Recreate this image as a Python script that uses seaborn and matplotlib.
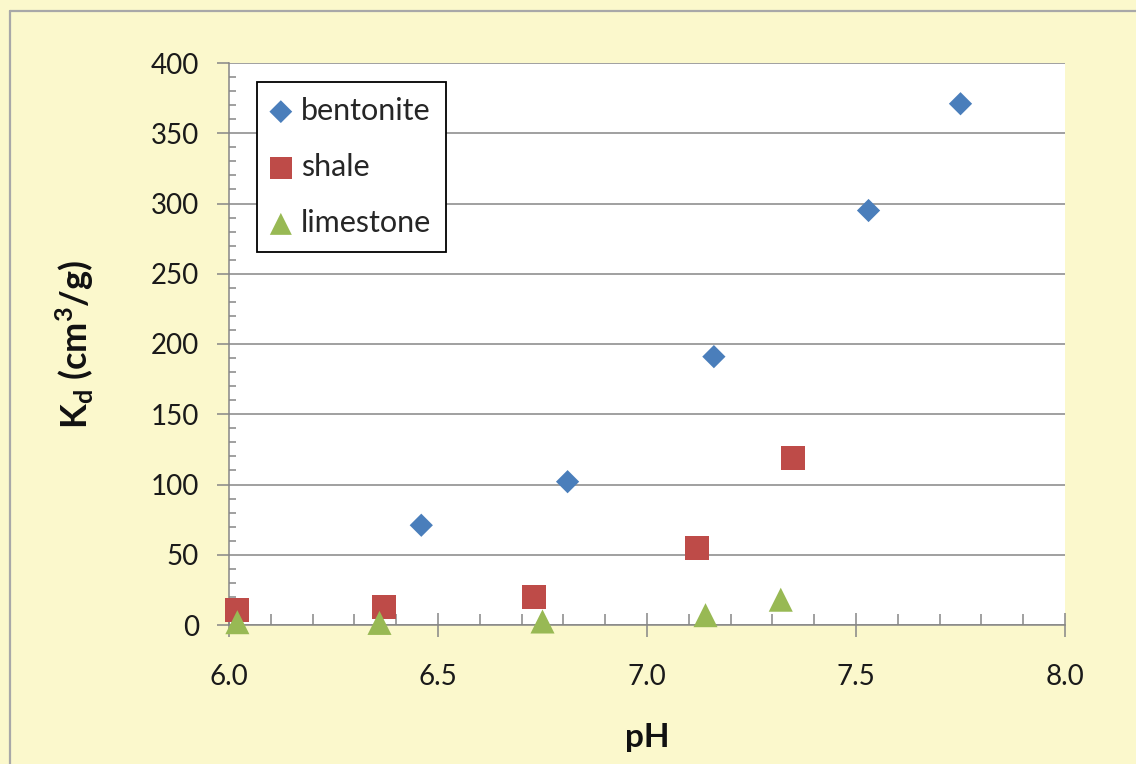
import numpy as np
import pandas as pd
import matplotlib
matplotlib.use("Agg")
import matplotlib.pyplot as plt
import seaborn as sns
from matplotlib.ticker import MultipleLocator, FormatStrFormatter
from matplotlib.lines import Line2D

# ---- data ----
series_names = ["bentonite", "shale", "limestone"]
bentonite_ph = [6.46, 6.81, 7.16, 7.53, 7.75]
bentonite_kd = [71, 102, 191, 295, 371]
shale_ph = [6.02, 6.37, 6.73, 7.12, 7.35]
shale_kd = [11, 13, 20, 55, 119]
limestone_ph = [6.02, 6.36, 6.75, 7.14, 7.32]
limestone_kd = [2, 1.5, 2.5, 7, 18]

x_ticks = [6.0, 6.5, 7.0, 7.5, 8.0]
y_ticks = [0, 50, 100, 150, 200, 250, 300, 350, 400]

df = pd.DataFrame({
    "pH": bentonite_ph + shale_ph + limestone_ph,
    "Kd": bentonite_kd + shale_kd + limestone_kd,
    "material": ["bentonite"] * 5 + ["shale"] * 5 + ["limestone"] * 5,
})

colors = {"bentonite": "#4A7EBB", "shale": "#BE4B48", "limestone": "#98B954"}
markers = {"bentonite": "D", "shale": "s", "limestone": "^"}
sizes = {"bentonite": 140, "shale": 300, "limestone": 300}
legend_sizes = {"bentonite": 135, "shale": 250, "limestone": 250}

bg = "#FBF8CC"

sns.set_theme(style="white")
plt.rcParams["font.family"] = ["Lato", "DejaVu Sans"]

fig = plt.figure(figsize=(11.36, 7.64), dpi=100, facecolor=bg)
ax = fig.add_axes([229 / 1136, 1 - 625 / 764, (1065 - 229) / 1136, (625 - 63) / 764])
ax.set_facecolor("white")

for name in series_names:
    sub = df[df["material"] == name]
    sns.scatterplot(data=sub, x="pH", y="Kd", marker=markers[name], s=sizes[name],
                    color=colors[name], edgecolor="none", linewidth=0,
                    label=name, ax=ax, clip_on=False, zorder=5)

ax.set_xlim(6.0, 8.0)
ax.set_ylim(0, 400)
ax.set_xticks(x_ticks)
ax.set_yticks(y_ticks)
ax.xaxis.set_major_formatter(FormatStrFormatter("%.1f"))
ax.xaxis.set_minor_locator(MultipleLocator(0.1))
ax.yaxis.set_minor_locator(MultipleLocator(10))

gray = "#868686"
ax.grid(axis="y", which="major", color=gray, linewidth=1.1)
ax.grid(axis="x", visible=False)
ax.set_axisbelow(True)
for side in ["top", "right"]:
    ax.spines[side].set_visible(False)
for side in ["left", "bottom"]:
    ax.spines[side].set_color(gray)
    ax.spines[side].set_linewidth(1.1)

ax.tick_params(axis="x", which="major", direction="inout", length=17, width=1.1,
               color=gray, pad=19.5, labelsize=20, labelcolor="#1a1a1a", bottom=True)
ax.tick_params(axis="x", which="minor", direction="in", length=8, width=1.1,
               color=gray, bottom=True)
ax.tick_params(axis="y", which="major", direction="out", length=8.6, width=1.1,
               color=gray, pad=13, labelsize=20, labelcolor="#1a1a1a", left=True)
ax.tick_params(axis="y", which="minor", direction="in", length=5, width=1.1,
               color=gray, left=True)

ax.set_xlabel("pH", fontsize=24, fontweight="bold", labelpad=24, color="#111111")
ax.set_ylabel(r"K$_\mathregular{d}$ (cm$^\mathregular{3}$/g)", fontsize=26,
              fontweight="bold", labelpad=39, color="#111111")

leg = ax.legend(loc="upper left", bbox_to_anchor=((257 - 229) / 836, (625 - 82) / 562),
                borderaxespad=0, frameon=True, fancybox=False, edgecolor="black",
                fontsize=22, labelspacing=0.92, handlelength=0.6, handletextpad=0.35,
                borderpad=0.48, framealpha=1)
leg.get_frame().set_linewidth(1.3)
for h, name in zip(leg.legend_handles, series_names):
    h.set_sizes([legend_sizes[name]])

# figure border (left and top visible in the reference)
fig.add_artist(Line2D([10 / 1136, 10 / 1136], [0, 1 - 11 / 764], transform=fig.transFigure,
                      color="#A8A8A8", linewidth=1.6))
fig.add_artist(Line2D([10 / 1136, 1], [1 - 11 / 764, 1 - 11 / 764], transform=fig.transFigure,
                      color="#A8A8A8", linewidth=1.6))

fig.savefig("out.png", dpi=100, facecolor=bg)
